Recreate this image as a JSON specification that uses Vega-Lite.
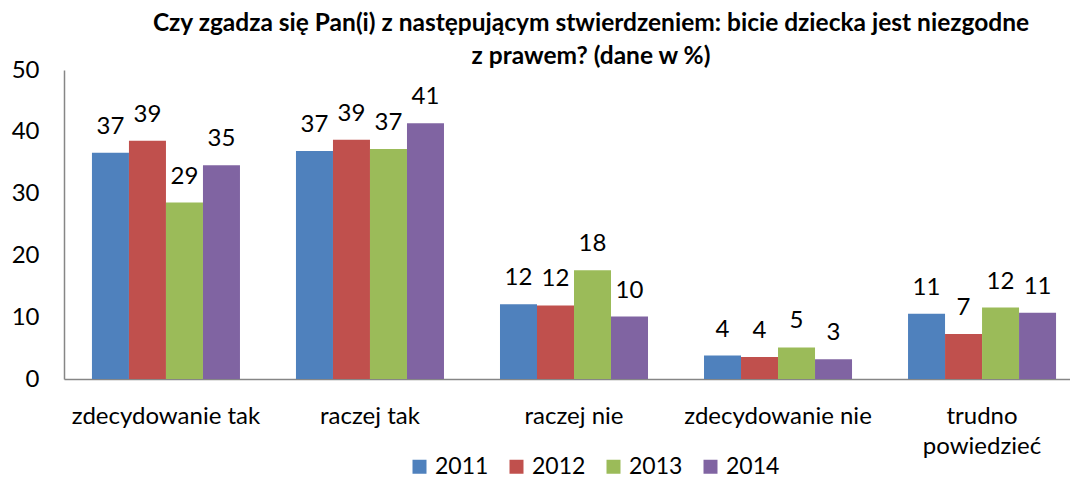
{
  "$schema": "https://vega.github.io/schema/vega-lite/v6.json",
  "width": 1006,
  "height": 309,
  "autosize": {"type": "none"},
  "padding": {"left": 64, "top": 70, "right": 0, "bottom": 101},
  "background": "white",
  "config": {
    "view": {"stroke": null},
    "font": "Lato",
    "axis": {"labelFont": "Lato", "labelColor": "black"},
    "legend": {"labelFont": "Lato"}
  },
  "title": {
    "text": ["Czy zgadza się Pan(i) z następującym stwierdzeniem: bicie dziecka jest niezgodne", "z prawem? (dane w %)"],
    "font": "Lato",
    "fontSize": 24.5,
    "fontWeight": "bold",
    "color": "black",
    "anchor": "middle",
    "dx": 24,
    "offset": -11,
    "lineHeight": 33
  },
  "data": {
    "values": [
      {"kategoria": "zdecydowanie tak", "rok": "2011", "wartosc": 36.6},
      {"kategoria": "zdecydowanie tak", "rok": "2012", "wartosc": 38.55},
      {"kategoria": "zdecydowanie tak", "rok": "2013", "wartosc": 28.55},
      {"kategoria": "zdecydowanie tak", "rok": "2014", "wartosc": 34.6},
      {"kategoria": "raczej tak", "rok": "2011", "wartosc": 36.9},
      {"kategoria": "raczej tak", "rok": "2012", "wartosc": 38.7},
      {"kategoria": "raczej tak", "rok": "2013", "wartosc": 37.2},
      {"kategoria": "raczej tak", "rok": "2014", "wartosc": 41.4},
      {"kategoria": "raczej nie", "rok": "2011", "wartosc": 12.1},
      {"kategoria": "raczej nie", "rok": "2012", "wartosc": 11.9},
      {"kategoria": "raczej nie", "rok": "2013", "wartosc": 17.6},
      {"kategoria": "raczej nie", "rok": "2014", "wartosc": 10.1},
      {"kategoria": "zdecydowanie nie", "rok": "2011", "wartosc": 3.8},
      {"kategoria": "zdecydowanie nie", "rok": "2012", "wartosc": 3.55},
      {"kategoria": "zdecydowanie nie", "rok": "2013", "wartosc": 5.1},
      {"kategoria": "zdecydowanie nie", "rok": "2014", "wartosc": 3.2},
      {"kategoria": "trudno powiedzieć", "rok": "2011", "wartosc": 10.55},
      {"kategoria": "trudno powiedzieć", "rok": "2012", "wartosc": 7.3},
      {"kategoria": "trudno powiedzieć", "rok": "2013", "wartosc": 11.55},
      {"kategoria": "trudno powiedzieć", "rok": "2014", "wartosc": 10.7}
    ]
  },
  "encoding": {
    "x": {
      "field": "kategoria",
      "type": "nominal",
      "sort": null,
      "scale": {"paddingInner": 0.2745, "paddingOuter": 0.137, "range": [0, 1020]},
      "axis": {
        "title": null,
        "labelAngle": 0,
        "labelFontSize": 24,
        "labelLimit": 0,
        "labelPadding": 25,
        "labelLineHeight": 30,
        "ticks": false,
        "tickSize": 0,
        "domainColor": "#868686",
        "domainWidth": 1.5,
        "labelExpr": "datum.value == 'trudno powiedzieć' ? ['trudno', 'powiedzieć'] : datum.value"
      }
    },
    "xOffset": {"field": "rok", "type": "nominal", "scale": {"paddingInner": 0, "paddingOuter": 0}},
    "y": {
      "field": "wartosc",
      "type": "quantitative",
      "scale": {"domain": [0, 50], "nice": false},
      "axis": {
        "title": null,
        "values": [0, 10, 20, 30, 40, 50],
        "grid": false,
        "ticks": false,
        "tickSize": 0,
        "labelFontSize": 24,
        "labelPadding": 25,
        "domainColor": "#868686",
        "domainWidth": 1.5
      }
    }
  },
  "layer": [
    {
      "mark": {"type": "bar"},
      "encoding": {
        "color": {
          "field": "rok",
          "type": "nominal",
          "scale": {"domain": ["2011", "2012", "2013", "2014"], "range": ["#4F81BD", "#C0504D", "#9BBB59", "#8064A2"]},
          "legend": {
            "title": null,
            "orient": "none",
            "direction": "horizontal",
            "legendX": 344,
            "legendY": 385,
            "symbolType": "square",
            "symbolSize": 196,
            "symbolStrokeWidth": 0,
            "labelFontSize": 23,
            "labelColor": "black",
            "columnPadding": 16,
            "labelOffset": 4
          }
        }
      }
    },
    {
      "mark": {"type": "text", "baseline": "alphabetic", "dy": -19, "fontSize": 24, "font": "Lato", "color": "black"},
      "encoding": {
        "text": {"field": "wartosc", "type": "quantitative", "format": ".0f"}
      }
    }
  ]
}
